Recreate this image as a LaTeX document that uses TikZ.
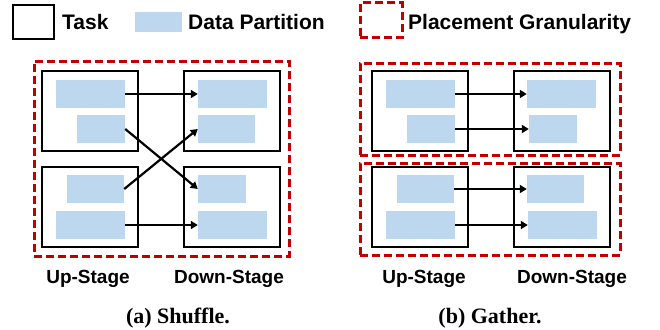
\documentclass[tikz,border=0pt]{standalone}
\usepackage{fontspec}
\setmainfont{Liberation Serif}
\newfontfamily\arialf{Liberation Sans}
\usetikzlibrary{arrows.meta}
\definecolor{partblue}{RGB}{189,215,238}
\definecolor{granred}{RGB}{192,0,0}
\tikzset{
  taskbox/.style={draw=black, line width=2.5pt, minimum width=96pt, minimum height=80pt, inner sep=0pt},
  part/.style={fill=partblue, draw=none, minimum height=28pt, inner sep=0pt},
  gran/.style={draw=granred, line width=3pt, dash pattern=on 8pt off 4pt},
  flow/.style={line width=2.2pt, -{Triangle[length=7pt,width=8pt]}},
  legtext/.style={font=\arialf\bfseries\fontsize{21}{24}\selectfont, inner sep=0pt, anchor=base west},
  stagetext/.style={font=\arialf\bfseries\fontsize{19}{22}\selectfont, inner sep=0pt, anchor=base},
  captext/.style={font=\bfseries\fontsize{22}{26}\selectfont, inner sep=0pt, anchor=base}
}
\begin{document}
\begin{tikzpicture}[x=1pt,y=-1pt]
\useasboundingbox (0,0) rectangle (660,329);
% legend
\node[draw=black, line width=2.5pt, minimum width=41pt, minimum height=34pt, inner sep=0pt] (legtask) at (33.5,22) {};
\node[legtext] (legtasktxt) at (62,30) {Task};
\node[fill=partblue, minimum width=47pt, minimum height=20pt, inner sep=0pt] (legpart) at (158.5,22) {};
\node[legtext] (legparttxt) at (188,30) {Data Partition};
\node[gran, minimum width=42pt, minimum height=35pt, inner sep=0pt] (leggran) at (381,20.5) {};
\node[legtext] (leggrantxt) at (408,30) {Placement Granularity};

% ---------------- (a) Shuffle
\node[gran, minimum width=255pt, minimum height=195pt, inner sep=0pt] (ga) at (161.5,158.5) {};
\node[taskbox] (aTL) at (90,111) {};
\node[taskbox] (aBL) at (90,207) {};
\node[taskbox] (aTR) at (232,111) {};
\node[taskbox] (aBR) at (232,207) {};
\node[part, minimum width=69pt] (aTL1) at (90.5,94) {};
\node[part, minimum width=48pt] (aTL2) at (101,129) {};
\node[part, minimum width=57pt] (aBL1) at (95.5,189) {};
\node[part, minimum width=69pt] (aBL2) at (90.5,225) {};
\node[part, minimum width=69pt] (aTR1) at (232.5,94) {};
\node[part, minimum width=57pt] (aTR2) at (226.5,129) {};
\node[part, minimum width=48pt] (aBR1) at (222,189) {};
\node[part, minimum width=69pt] (aBR2) at (232.5,225) {};
\draw[flow] (aTL1.east) -- (aTR1.west);
\draw[flow] (aTL2.east) -- (aBR1.west);
\draw[flow] (aBL1.east) -- (aTR2.west);
\draw[flow] (aBL2.east) -- (aBR2.west);
\node[stagetext] (aup) at (88,283) {Up-Stage};
\node[stagetext] (adown) at (229,283) {Down-Stage};
\node[captext] (capa) at (178,323) {(a) Shuffle.};

% ---------------- (b) Gather
\node[gran, minimum width=260pt, minimum height=92pt, inner sep=0pt] (gb1) at (490,109) {};
\node[gran, minimum width=260pt, minimum height=92pt, inner sep=0pt] (gb2) at (490,209) {};
\node[taskbox] (bTL) at (420,111) {};
\node[taskbox] (bBL) at (420,207) {};
\node[taskbox] (bTR) at (562,111) {};
\node[taskbox] (bBR) at (562,207) {};
\node[part, minimum width=69pt] (bTL1) at (420.5,94) {};
\node[part, minimum width=48pt] (bTL2) at (431,129) {};
\node[part, minimum width=57pt] (bBL1) at (425.5,189) {};
\node[part, minimum width=69pt] (bBL2) at (420.5,225) {};
\node[part, minimum width=69pt] (bTR1) at (561.5,94) {};
\node[part, minimum width=48pt] (bTR2) at (553,129) {};
\node[part, minimum width=57pt] (bBR1) at (555.5,189) {};
\node[part, minimum width=69pt] (bBR2) at (562.5,225) {};
\draw[flow] (bTL1.east) -- (bTR1.west);
\draw[flow] (bTL2.east) -- (bTR2.west);
\draw[flow] (bBL1.east) -- (bBR1.west);
\draw[flow] (bBL2.east) -- (bBR2.west);
\node[stagetext] (bup) at (424,283) {Up-Stage};
\node[stagetext] (bdown) at (572,283) {Down-Stage};
\node[captext] (capb) at (490,323) {(b) Gather.};
\end{tikzpicture}
\end{document}
